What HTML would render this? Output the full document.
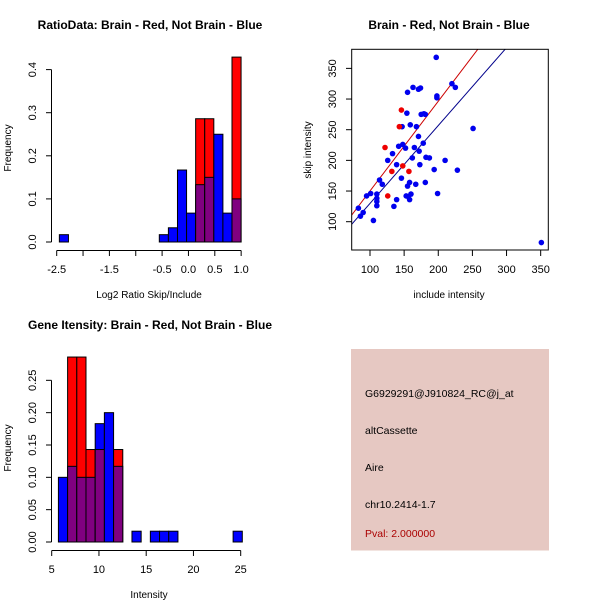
<!DOCTYPE html>
<html><head><meta charset="utf-8">
<style>
html,body{margin:0;padding:0;background:#fff;}
svg{display:block;font-family:"Liberation Sans",sans-serif;}
</style></head>
<body>
<svg id="chart" width="600" height="600" viewBox="0 0 600 600">
<rect x="0" y="0" width="600" height="600" fill="#fff"/>
</svg>
<script>
// ---- Ratio histogram data ----
const ratioBins = [-11,0,1,2,3,4,5,6,7,8];
const ratioBlue = [0.017,0.017,0.033,0.167,0.067,0.133,0.15,0.25,0.067,0.1];
const ratioRed  = [0,0,0,0,0,0.286,0.286,0,0,0.429];
const ratioXTicks = [-2.5,-2.0,-1.5,-1.0,-0.5,0.0,0.5,1.0];
const ratioXLabels = ["-2.5","","-1.5","","-0.5","0.0","0.5","1.0"];
const ratioYTicks = [0,0.1,0.2,0.3,0.4];
const ratioYLabels = ["0.0","0.1","0.2","0.3","0.4"];
// ---- Intensity histogram data ----
const intBins = [0,1,2,3,4,5,6,8,10,11,12,19];
const intBlue = [0.1,0.117,0.1,0.1,0.183,0.2,0.117,0.0167,0.0167,0.0167,0.0167,0.0167];
const intRed  = [0,0.286,0.286,0.143,0.143,0,0.143,0,0,0,0,0];
const intXTicks = [5,10,15,20,25];
const intYTicks = [0,0.05,0.10,0.15,0.20,0.25];
const intYLabels = ["0.00","0.05","0.10","0.15","0.20","0.25"];
// ---- Scatter data ----
const blueX = [83,86,90,95,101,105,110,110,110,110,114,118,126,133,135,139,139,142,146,148,147,152,153,154,155,155,156,159,158,158,160,162,163,165,167,168,171,171,172,173,174,175,178,179,181,181,182,187,194,197,198,198,199,210,220,225,228,251,351];
const blueY = [122,109,115,142,146,102,145,138,133,126,168,161,200,211,125,193,136,223,171,226,255,220,142,277,311,158,141,258,136,164,145,204,319,221,161,255,239,316,215,193,318,275,228,276,275,164,205,204,185,368,305,302,146,200,325,319,184,252,66];
const redX = [122,126,132,146,143,148,157];
const redY = [221,142,182,282,255,191,182];
const redFit = [3.8,1.463];
const blueFit = [2.8,1.27];
const scXTicks = [100,150,200,250,300,350];
const scYTicks = [100,150,200,250,300,350];

const svg = document.getElementById('chart');
const NS = 'http://www.w3.org/2000/svg';
function mk(tag, attrs, parent){
  const e = document.createElementNS(NS, tag);
  for (const k in attrs) e.setAttribute(k, attrs[k]);
  (parent||svg).appendChild(e);
  return e;
}
function txt(x,y,s,opts,parent){
  const t = mk('text',{x:x,y:y,'font-size':opts.size||11,'text-anchor':opts.anchor||'middle',fill:opts.fill||'#000'},parent);
  if (opts.bold) t.setAttribute('font-weight','bold');
  if (opts.rot) t.setAttribute('transform','rotate(-90 '+x+' '+y+')');
  t.textContent = s;
  return t;
}

// ===== Panel 1: ratio histogram =====
const g1 = mk('g',{});


const rX = v => 56.7 + (v + 2.5) * 52.7;
const rY = v => 242 - v * 431;
const rW = 0.1724, rStart = -0.553;
ratioBins.forEach((b,i)=>{
  const x0 = rX(rStart + b*rW), x1 = rX(rStart + (b+1)*rW);
  const bl = ratioBlue[i], rd = ratioRed[i];
  const hi = Math.max(bl, rd), lo = Math.min(bl, rd);
  if (hi > 0) {
    const r = mk('rect',{x:x0,y:rY(hi),width:x1-x0,height:rY(0)-rY(hi),fill:rd>bl?'#ff0000':'#0000ff',stroke:'#000','stroke-width':1},g1);
    
    
  }
  if (lo > 0) {
    const r = mk('rect',{x:x0,y:rY(lo),width:x1-x0,height:rY(0)-rY(lo),fill:'#800080',stroke:'#000','stroke-width':1},g1);
    
    
  }
});
mk('line',{x1:rX(-2.5),x2:rX(1.0),y1:250.5,y2:250.5,stroke:'#000'},g1);
ratioXTicks.forEach((v,i)=>{
  mk('line',{x1:rX(v),x2:rX(v),y1:250.5,y2:256,stroke:'#000'},g1);
  if (ratioXLabels[i]) txt(rX(v),273,ratioXLabels[i],{},g1);
});
mk('line',{x1:51.5,x2:51.5,y1:rY(0),y2:rY(0.4),stroke:'#000'},g1);
ratioYTicks.forEach((v,i)=>{
  mk('line',{x1:46,x2:51.5,y1:rY(v),y2:rY(v),stroke:'#000'},g1);
  txt(36,rY(v),ratioYLabels[i],{rot:true},g1);
});
txt(150,29,'RatioData: Brain - Red, Not Brain - Blue',{bold:true,size:12},g1);
txt(149,298,'Log2 Ratio Skip/Include',{size:10},g1);
txt(11,148,'Frequency',{size:10,rot:true},g1);

// ===== Panel 2: scatter =====
const g2 = mk('g',{});


const sX = v => 370 + (v - 100) * 0.6827;
const sY = v => 221.7 - (v - 100) * 0.6133;
const defs = mk('defs',{},g2);
const cp = mk('clipPath',{id:'scclip'},defs);
mk('rect',{x:351.7,y:49.3,width:196.6,height:200.7},cp);
const fitG = mk('g',{'clip-path':'url(#scclip)'},g2);
const lr = mk('line',{x1:sX(50),y1:sY(redFit[0]+redFit[1]*50),x2:sX(400),y2:sY(redFit[0]+redFit[1]*400),stroke:'#cc0000','stroke-width':1},fitG);


const lb = mk('line',{x1:sX(50),y1:sY(blueFit[0]+blueFit[1]*50),x2:sX(400),y2:sY(blueFit[0]+blueFit[1]*400),stroke:'#00008b','stroke-width':1},fitG);


blueX.forEach((v,i)=>{
  const c = mk('circle',{cx:sX(v),cy:sY(blueY[i]),r:2.8,fill:'#0000ee'},g2);
  
  
});
redX.forEach((v,i)=>{
  const c = mk('circle',{cx:sX(v),cy:sY(redY[i]),r:2.8,fill:'#ee0000'},g2);
  
  
});
mk('rect',{x:351.7,y:49.3,width:196.6,height:200.7,fill:'none',stroke:'#000'},g2);
scXTicks.forEach(v=>{
  mk('line',{x1:sX(v),x2:sX(v),y1:250,y2:256,stroke:'#000'},g2);
  txt(sX(v),273,String(v),{},g2);
});
scYTicks.forEach(v=>{
  mk('line',{x1:346,x2:351.7,y1:sY(v),y2:sY(v),stroke:'#000'},g2);
  txt(336,sY(v),String(v),{rot:true},g2);
});
txt(449,29,'Brain - Red, Not Brain - Blue',{bold:true,size:12},g2);
txt(449,298,'include intensity',{size:10},g2);
txt(311,150,'skip intensity',{size:10,rot:true},g2);

// ===== Panel 3: intensity histogram =====
const g3 = mk('g',{});


const iX = v => 51.7 + (v - 5) * 9.45;
const iY = v => 542 - v * 646.7;
const iW = 0.973, iStart = 5.71;
intBins.forEach((b,i)=>{
  const x0 = iX(iStart + b*iW), x1 = iX(iStart + (b+1)*iW);
  const bl = intBlue[i], rd = intRed[i];
  const hi = Math.max(bl, rd), lo = Math.min(bl, rd);
  if (hi > 0) {
    const r = mk('rect',{x:x0,y:iY(hi),width:x1-x0,height:iY(0)-iY(hi),fill:rd>bl?'#ff0000':'#0000ff',stroke:'#000','stroke-width':1},g3);
    
    
  }
  if (lo > 0) {
    const r = mk('rect',{x:x0,y:iY(lo),width:x1-x0,height:iY(0)-iY(lo),fill:'#800080',stroke:'#000','stroke-width':1},g3);
    
    
  }
});
mk('line',{x1:iX(5),x2:iX(25),y1:550.5,y2:550.5,stroke:'#000'},g3);
intXTicks.forEach(v=>{
  mk('line',{x1:iX(v),x2:iX(v),y1:550.5,y2:556,stroke:'#000'},g3);
  txt(iX(v),573,String(v),{},g3);
});
mk('line',{x1:51.5,x2:51.5,y1:iY(0),y2:iY(0.25),stroke:'#000'},g3);
intYTicks.forEach((v,i)=>{
  mk('line',{x1:46,x2:51.5,y1:iY(v),y2:iY(v),stroke:'#000'},g3);
  txt(36,iY(v),intYLabels[i],{rot:true},g3);
});
txt(150,329,'Gene Itensity: Brain - Red, Not Brain - Blue',{bold:true,size:12},g3);
txt(149,598,'Intensity',{size:10},g3);
txt(11,448,'Frequency',{size:10,rot:true},g3);
</script>
<svg style="position:absolute;left:0;top:0" width="600" height="600">
<rect x="351" y="349" width="198" height="201.5" fill="#e6c8c2"/>
<g font-family="Liberation Sans, sans-serif" font-size="10.5">
<text x="365" y="397">G6929291@J910824_RC@j_at</text>
<text x="365" y="434">altCassette</text>
<text x="365" y="471">Aire</text>
<text x="365" y="508">chr10.2414-1.7</text>
<text x="365" y="537" fill="#aa0000">Pval: 2.000000</text>
</g>
</svg>
</body></html>
